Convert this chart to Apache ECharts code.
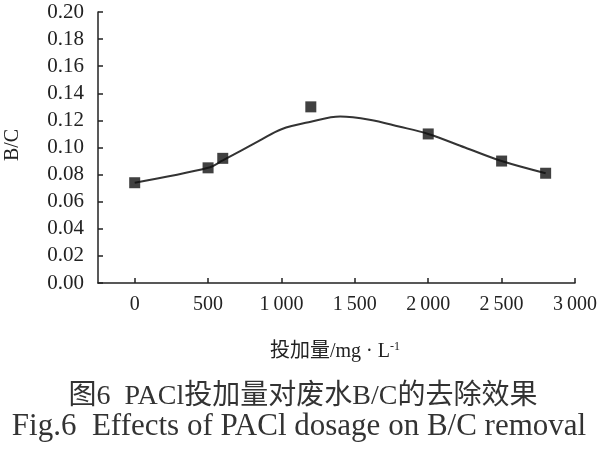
<!DOCTYPE html>
<html>
<head>
<meta charset="utf-8">
<script src="https://cdn.jsdelivr.net/npm/echarts@6/dist/echarts.min.js"></script>
<style>html,body{margin:0;padding:0;background:#fff;}#c{width:600px;height:450px;}</style>
</head>
<body>
<div id="c"></div>
<script>
// Measured points (PACl dosage mg/L, B/C)
var dosage = [0, 500, 600, 1200, 2000, 2500, 2800];
var bc = [0.074, 0.085, 0.092, 0.130, 0.110, 0.090, 0.081];
// Fitted curve
var fitX = [0, 500, 600, 850, 1000, 1200, 1400, 1600, 1800, 2000, 2250, 2500, 2800];
var fitY = [0.074, 0.085, 0.0905, 0.105, 0.1135, 0.119, 0.1228, 0.1205, 0.1155, 0.110, 0.100, 0.090, 0.081];
var xTicks = [0, 500, 1000, 1500, 2000, 2500, 3000];

var serif = '"Liberation Serif","Times New Roman","Noto Sans CJK SC",serif';
var cjk = '"Liberation Serif","Noto Sans CJK SC",serif';

function pairs(xs, ys){ return xs.map(function(x,i){ return [x, ys[i]]; }); }

var chart = echarts.init(document.getElementById('c'), null, {renderer:'canvas'});
chart.setOption({
  animation:false,
  backgroundColor:'#fff',
  grid:{left:98, right:23, top:12, bottom:167},
  xAxis:{
    type:'value', min:-250, max:3000,
    splitLine:{show:false},
    axisLine:{show:true, onZero:false, lineStyle:{color:'#222', width:1.5}},
    axisTick:{show:true, inside:true, length:5, customValues:xTicks, lineStyle:{color:'#222', width:1.5}},
    axisLabel:{customValues:xTicks, margin:12, color:'#222', fontFamily:serif, fontSize:20,
      formatter:function(v){ return v>=1000 ? Math.floor(v/1000)+'\u2009'+String(v%1000).padStart(3,'0') : String(v); }}
  },
  yAxis:{
    type:'value', min:0, max:0.20, interval:0.02,
    splitLine:{show:false},
    axisLine:{show:true, onZero:false, lineStyle:{color:'#222', width:1.5}},
    axisTick:{show:true, inside:true, length:5, lineStyle:{color:'#222', width:1.5}},
    axisLabel:{margin:14, color:'#222', fontFamily:serif, fontSize:21,
      formatter:function(v){ return v.toFixed(2); }}
  },
  series:[
    {type:'line', data:pairs(fitX, fitY), smooth:0.35, showSymbol:false, symbol:'none',
     lineStyle:{color:'#333', width:2}, z:2},
    {type:'scatter', data:pairs(dosage, bc), symbol:'rect', symbolSize:11,
     itemStyle:{color:'#111'}, z:3}
  ],
  graphic:[
    {type:'text', x:13, y:145, rotation:Math.PI/2,
     style:{text:'B/C', font:'20px '+serif, fill:'#222', textAlign:'center', textVerticalAlign:'middle'}},
    {type:'text', x:335, y:352,
     style:{text:'{a|投加量/mg · L}{s|-1}',
       rich:{a:{font:'20px '+cjk, fill:'#222', color:'#222'}, s:{font:'12px '+serif, fill:'#222', color:'#222', verticalAlign:'top', padding:[0,0,10,0]}},
       textAlign:'center', textVerticalAlign:'middle'}},
    {type:'text', x:303, y:397,
     style:{text:'图6  PACl投加量对废水B/C的去除效果', font:'28px '+cjk, fill:'#333', textAlign:'center', textVerticalAlign:'middle'}},
    {type:'text', x:299, y:427,
     style:{text:'Fig.6  Effects of PACl dosage on B/C removal', font:'31px '+serif, fill:'#333', textAlign:'center', textVerticalAlign:'middle'}}
  ]
});
</script>
</body>
</html>
